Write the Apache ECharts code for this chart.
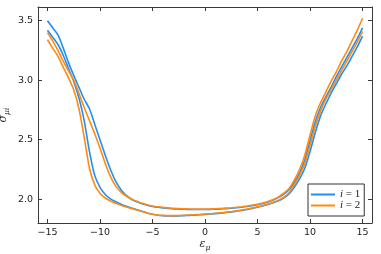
<!DOCTYPE html>
<html><head><meta charset="utf-8">
<script src="https://cdn.jsdelivr.net/npm/echarts@6/dist/echarts.min.js"></script>
<style>html,body{margin:0;padding:0;background:#fff}#c{width:381px;height:254px}</style>
</head><body><div id="c"></div>
<script>
const xs = [-15,-14.5,-14,-13.5,-13,-12.5,-12,-11.5,-11,-10.5,-10,-9.5,-9,-8.5,-8,-7.5,-7,-6.5,-6,-5.5,-5,-4.5,-4,-3.5,-3,-2.5,-2,-1.5,-1,-0.5,0,0.5,1,1.5,2,2.5,3,3.5,4,4.5,5,5.5,6,6.5,7,7.5,8,8.5,9,9.5,10,10.5,11,11.5,12,12.5,13,13.5,14,14.5,15];
const blueOuter = [3.50,3.44,3.38,3.27,3.15,3.04,2.94,2.84,2.76,2.63,2.50,2.37,2.25,2.15,2.08,2.032,2.0,1.978,1.962,1.949,1.939,1.932,1.927,1.923,1.919,1.917,1.915,1.914,1.913,1.913,1.913,1.914,1.916,1.918,1.921,1.924,1.928,1.933,1.939,1.946,1.954,1.964,1.977,1.994,2.015,2.043,2.08,2.14,2.22,2.33,2.49,2.65,2.77,2.86,2.94,3.03,3.11,3.19,3.27,3.35,3.44];
const blueInner = [3.42,3.36,3.30,3.21,3.10,2.99,2.85,2.66,2.40,2.20,2.10,2.04,2.003,1.978,1.958,1.941,1.926,1.912,1.898,1.884,1.873,1.865,1.861,1.859,1.859,1.86,1.862,1.864,1.866,1.869,1.872,1.875,1.879,1.883,1.888,1.893,1.899,1.906,1.914,1.923,1.933,1.944,1.956,1.97,1.987,2.012,2.045,2.10,2.17,2.26,2.40,2.56,2.70,2.80,2.89,2.97,3.05,3.12,3.20,3.28,3.37];
const orangeOuter = [3.40,3.33,3.25,3.16,3.08,3.00,2.89,2.77,2.66,2.55,2.43,2.30,2.19,2.11,2.06,2.027,2.003,1.982,1.966,1.953,1.943,1.936,1.931,1.927,1.923,1.921,1.919,1.918,1.917,1.917,1.917,1.918,1.92,1.922,1.925,1.928,1.932,1.937,1.943,1.95,1.958,1.968,1.981,1.998,2.02,2.05,2.09,2.16,2.25,2.37,2.54,2.70,2.81,2.90,2.99,3.07,3.16,3.24,3.33,3.42,3.52];
const orangeInner = [3.34,3.27,3.20,3.11,3.02,2.92,2.76,2.52,2.26,2.12,2.05,2.01,1.985,1.965,1.949,1.935,1.922,1.909,1.896,1.884,1.874,1.867,1.864,1.862,1.862,1.863,1.865,1.867,1.869,1.872,1.875,1.878,1.882,1.886,1.891,1.896,1.902,1.909,1.917,1.926,1.936,1.947,1.959,1.974,1.992,2.018,2.055,2.12,2.20,2.30,2.45,2.61,2.74,2.84,2.92,3.00,3.08,3.16,3.24,3.32,3.41];
const xTicks = [-15,-10,-5,0,5,10,15];
const yTicks = [2.0,2.5,3.0,3.5];
const names = ['i = 1','i = 2'];

const BLUE = '#1e8ff5', ORANGE = '#ff8a12';
const AX = '#3a3a3a';
const pair = (a)=> xs.map((x,i)=>[x,a[i]]);
function mk(name, color, data){
  return {type:'line', name, data:pair(data), showSymbol:false, smooth:0.25,
    lineStyle:{color, width:1.6}, itemStyle:{color}, animation:false, z:2};
}
const fmtX = v => v<0 ? '\u2212'+(-v) : String(v);
const chart = echarts.init(document.getElementById('c'), null, {renderer:'canvas'});
const tickLbl = {fontFamily:'DejaVu Sans', fontSize:9.5, color:'#222'};
chart.setOption({
  animation:false,
  backgroundColor:'#fff',
  grid:{left:38, right:9, top:7, bottom:31, containLabel:false, outerBoundsMode:'none'},
  legend:{
    data:names, orient:'vertical', left:308, top:184, icon:'rect', itemWidth:24, itemHeight:2,
    itemGap:0, padding:[5,4,5,3], borderColor:'#333', borderWidth:1, backgroundColor:'#fff',
    textStyle:{fontFamily:'Liberation Serif', fontSize:11, color:'#222', lineHeight:11,
      rich:{i:{fontFamily:'Liberation Serif', fontStyle:'italic', fontSize:11, color:'#222'},
            r:{fontFamily:'Liberation Serif', fontSize:11, color:'#222'}}},
    formatter: n => '{i|i}{r|' + n.slice(1) + '}'
  },
  xAxis:[{
    type:'value', min:-15.9, max:15.9, position:'bottom',
    axisLine:{show:true, onZero:false, lineStyle:{color:AX, width:1}},
    axisTick:{show:true, inside:true, length:4, customValues:xTicks, lineStyle:{color:AX}},
    axisLabel:{show:true, customValues:xTicks, formatter:fmtX, margin:5, ...tickLbl},
    splitLine:{show:false},
    name:'{e|\u03b5}{s|\u03bc}', nameLocation:'middle', nameGap:14, nameMoveOverlap:false,
    nameTextStyle:{rich:{e:{fontFamily:'DejaVu Serif', fontStyle:'italic', fontSize:11, color:'#222'},
                         s:{fontFamily:'DejaVu Serif', fontStyle:'italic', fontSize:7.5, color:'#222', padding:[7,0,0,0]}}}
  },{
    type:'value', min:-15.9, max:15.9, position:'top',
    axisLine:{show:true, onZero:false, lineStyle:{color:AX, width:1}},
    axisTick:{show:true, inside:true, length:4, customValues:xTicks, lineStyle:{color:AX}},
    axisLabel:{show:false}, splitLine:{show:false}
  }],
  yAxis:[{
    type:'value', min:1.8, max:3.615, position:'left',
    axisLine:{show:true, onZero:false, lineStyle:{color:AX, width:1}},
    axisTick:{show:true, inside:true, length:4, customValues:yTicks, lineStyle:{color:AX}},
    axisLabel:{show:true, customValues:yTicks, formatter:v=>v.toFixed(1), margin:5, ...tickLbl},
    splitLine:{show:false},
    name:'{e|\u03c3}{s|\u03bci}', nameLocation:'middle', nameRotate:90, nameGap:27, nameMoveOverlap:false,
    nameTextStyle:{rich:{e:{fontFamily:'DejaVu Serif', fontStyle:'italic', fontSize:11, color:'#222'},
                         s:{fontFamily:'DejaVu Serif', fontStyle:'italic', fontSize:7.5, color:'#222', padding:[7,0,0,0]}}}
  },{
    type:'value', min:1.8, max:3.615, position:'right',
    axisLine:{show:true, onZero:false, lineStyle:{color:AX, width:1}},
    axisTick:{show:true, inside:true, length:4, customValues:yTicks, lineStyle:{color:AX}},
    axisLabel:{show:false}, splitLine:{show:false}
  }],
  series:[
    mk(names[0], BLUE, blueOuter),
    mk(names[0], BLUE, blueInner),
    mk(names[1], ORANGE, orangeOuter),
    mk(names[1], ORANGE, orangeInner)
  ]
});
</script></body></html>
